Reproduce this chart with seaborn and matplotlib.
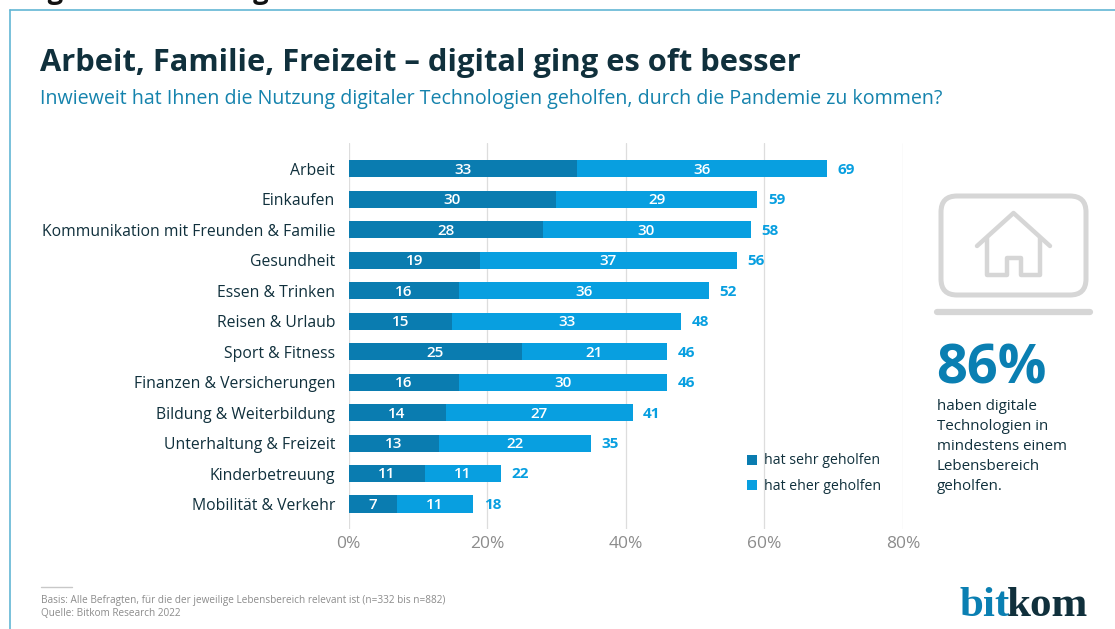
import matplotlib
matplotlib.use("Agg")
import matplotlib.pyplot as plt
from matplotlib.patches import FancyBboxPatch, Rectangle
from matplotlib.lines import Line2D
import pandas as pd
import seaborn as sns

categories = ["Arbeit", "Einkaufen", "Kommunikation mit Freunden & Familie", "Gesundheit",
              "Essen & Trinken", "Reisen & Urlaub", "Sport & Fitness", "Finanzen & Versicherungen",
              "Bildung & Weiterbildung", "Unterhaltung & Freizeit", "Kinderbetreuung", "Mobilität & Verkehr"]
sehr = [33, 30, 28, 19, 16, 15, 25, 16, 14, 13, 11, 7]
eher = [36, 29, 30, 37, 36, 33, 21, 30, 27, 22, 11, 11]
gesamt = [69, 59, 58, 56, 52, 48, 46, 46, 41, 35, 22, 18]
xticks = [0, 20, 40, 60, 80]

DARK = "#0a7cb0"
LIGHT = "#089fe0"
INK = "#10303c"
GREY = "#8c8c8c"
FONT = ["Open Sans", "DejaVu Sans"]

W, H = 1115, 629
sns.set_theme(style="white")
plt.rcParams["font.family"] = FONT
fig = plt.figure(figsize=(W / 100, H / 100), dpi=100, facecolor="white")

def fx(p): return p / W
def fy(p): return 1 - p / H

# frame of the slide
fig.add_artist(Line2D([fx(10), fx(10)], [fy(10), 0], color="#62b6d4", lw=1.2))
fig.add_artist(Line2D([fx(10), 1], [fy(10), fy(10)], color="#62b6d4", lw=1.2))

ax = fig.add_axes([fx(348.5), fy(529), fx(903 - 348.5), (529 - 143) / H])
df = pd.DataFrame({"k": categories, "sehr": sehr, "eher": eher, "gesamt": gesamt})
sns.barplot(data=df, y="k", x="gesamt", color=LIGHT, saturation=1, width=0.56, linewidth=0, ax=ax, zorder=3)
sns.barplot(data=df, y="k", x="sehr", color=DARK, saturation=1, width=0.56, linewidth=0, ax=ax, zorder=4)
ax.set_xlim(0, 80)
ax.set_ylim(11.82, -0.85)
ax.set_xlabel("")
ax.set_ylabel("")
ax.set_xticks(xticks)
ax.set_xticklabels([f"{t}%" for t in xticks], fontsize=12.5, color=GREY)
ax.tick_params(axis="x", length=0, pad=5)
ax.tick_params(axis="y", length=0, pad=9.7, labelsize=11.3, labelcolor=INK)
ax.xaxis.grid(True, color="#dddddd", lw=0.9)
ax.set_axisbelow(True)
for s in ax.spines.values():
    s.set_visible(False)

for i, (a, b, t) in enumerate(zip(sehr, eher, gesamt)):
    ax.text(a / 2, i + 0.03, str(a), ha="center", va="center", color="white", fontsize=11, fontweight="semibold", zorder=5)
    ax.text(a + b / 2, i + 0.03, str(b), ha="center", va="center", color="white", fontsize=11, fontweight="semibold", zorder=5)
    ax.text(t + 1.5, i + 0.03, str(t), ha="left", va="center", color=LIGHT, fontsize=11, fontweight="bold", zorder=5)

# legend
for y, c, lab in [(460, DARK, "hat sehr geholfen"), (485, LIGHT, "hat eher geholfen")]:
    fig.add_artist(Rectangle((fx(747), fy(y + 5)), 10 / W, 10 / H, transform=fig.transFigure, color=c, lw=0))
    fig.text(fx(764), fy(y + 1), lab, fontsize=10.2, color=INK, va="center", ha="left")

# titles
fig.text(fx(40), fy(63), "Arbeit, Familie, Freizeit – digital ging es oft besser", fontsize=22.2,
         fontweight="bold", color=INK, va="center", ha="left")
fig.text(fx(40), fy(99), "Inwieweit hat Ihnen die Nutzung digitaler Technologien geholfen, durch die Pandemie zu kommen?",
         fontsize=14.1, color="#1583ad", va="center", ha="left")
# text cut off at the upper edge
fig.text(fx(19), fy(-8), "Digitale Technologien halfen vielen Menschen in allen Lebensbereichen", fontsize=19.6,
         fontweight="bold", color="#111111", va="center", ha="left")

# icon
IC = "#d6d6d6"
icon = fig.add_axes([0, 0, 1, 1], facecolor="none")
icon.set_xlim(0, W)
icon.set_ylim(H, 0)
icon.axis("off")
icon.add_patch(FancyBboxPatch((941, 196), 145, 99, boxstyle="round,pad=0,rounding_size=16", fill=False, ec=IC, lw=3.6))
icon.plot([977, 1013.5, 1050], [246, 213, 246], color=IC, lw=3.2, solid_capstyle="round", solid_joinstyle="round")
icon.plot([987, 987, 1007, 1007, 1021, 1021, 1040, 1040],
          [238, 275, 275, 258, 258, 275, 275, 238], color=IC, lw=3.2, solid_joinstyle="round")
icon.plot([937, 1090], [312, 312], color=IC, lw=4.5, solid_capstyle="round")

fig.text(fx(936), fy(370), "86%", fontsize=39, fontweight="bold", color="#0a7fb2", va="center", ha="left")
for i, line in enumerate(["haben digitale", "Technologien in", "mindestens einem", "Lebensbereich", "geholfen."]):
    fig.text(fx(937), fy(406.5 + 20 * i), line, fontsize=10.9, color=INK, va="center", ha="left")

# footnote
fig.add_artist(Line2D([fx(41), fx(72)], [fy(587), fy(587)], color="#c8c8c8", lw=1))
fig.text(fx(41), fy(600.5), "Basis: Alle Befragten, für die der jeweilige Lebensbereich relevant ist (n=332 bis n=882)",
         fontsize=7.2, color=GREY, va="center", ha="left")
fig.text(fx(41), fy(613.5), "Quelle: Bitkom Research 2022", fontsize=7.2, color=GREY, va="center", ha="left")

# logo wordmark
fig.text(fx(960), fy(616), "bit", fontsize=31, fontweight="bold", color="#0a7fb2", va="baseline", ha="left", family="Liberation Serif")
fig.text(fx(1007), fy(616), "kom", fontsize=31, fontweight="bold", color=INK, va="baseline", ha="left", family="Liberation Serif")

fig.savefig("out.png", dpi=100)
